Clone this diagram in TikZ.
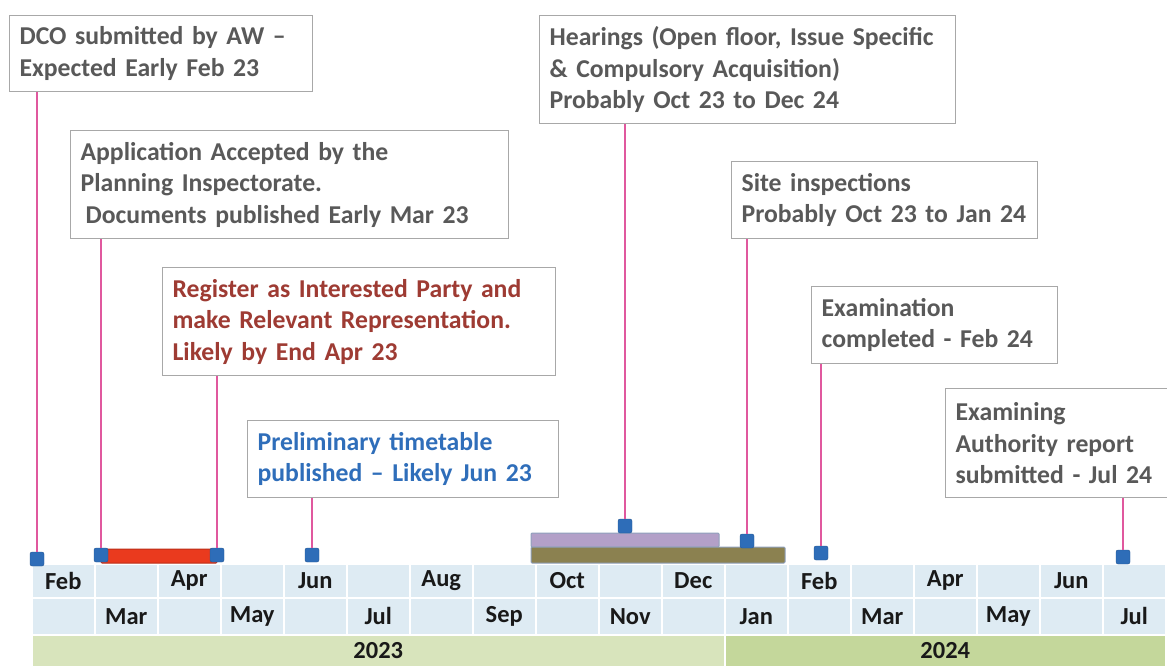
\documentclass[tikz,border=0pt]{standalone}
\usepackage{fontspec}
\setmainfont{Carlito}
\definecolor{txtgray}{HTML}{595959}
\definecolor{txtred}{HTML}{9E3B33}
\definecolor{txtblue}{HTML}{2F6EBA}
\definecolor{boxgray}{HTML}{A8A8A8}
\definecolor{pinkline}{HTML}{E0589E}
\definecolor{mkblue}{HTML}{2E6DB8}
\definecolor{cellblue}{HTML}{DEEBF3}
\definecolor{yr23}{HTML}{D8E4BC}
\definecolor{yr24}{HTML}{C4D79B}
\definecolor{barred}{HTML}{EA3A1E}
\definecolor{barpurple}{HTML}{B3A0C8}
\definecolor{barolive}{HTML}{8B8150}
\definecolor{baredge}{HTML}{8FA0BC}
\begin{document}
\begin{tikzpicture}[x=1pt,y=-1pt,
  evbox/.style={draw=boxgray, line width=1.2pt, fill=white, anchor=north west,
    inner xsep=10pt, inner ysep=0pt, align=left, text=txtgray,
    font=\bfseries\fontsize{25.7}{31.5}\selectfont},
  cell/.style={anchor=north west, minimum width=63pt, inner sep=0pt,
    fill=cellblue, draw=white, line width=1.5pt, text=black!90,
    font=\bfseries\fontsize{24.5}{28}\selectfont},
  yearcell/.style={anchor=north west, minimum height=32pt, inner sep=0pt,
    draw=white, line width=1.5pt, text=black!90,
    font=\bfseries\fontsize{24.5}{28}\selectfont},
  marker/.style={minimum size=14pt, inner sep=0pt, fill=mkblue, draw=mkblue!80!black,
    line width=0.4pt, rounded corners=2pt},
  stem/.style={draw=pinkline, line width=2pt},
  bar/.style={line width=1pt, rounded corners=1pt}
]
\useasboundingbox (0,0) rectangle (1167,665);

% timeline cells
\foreach \m [count=\k from 0] in {Feb,Mar,Apr,May,Jun,Jul,Aug,Sep,Oct,Nov,Dec,Jan,Feb,Mar,Apr,May,Jun,Jul} {
  \ifodd\k
    \node[cell, minimum height=34pt] (ra\k) at ({31+63*\k},563) {};
    \node[cell, minimum height=37pt] (rb\k) at ({31+63*\k},597) {\m};
  \else
    \node[cell, minimum height=34pt] (ra\k) at ({31+63*\k},563) {\m};
    \node[cell, minimum height=37pt] (rb\k) at ({31+63*\k},597) {};
  \fi
}
\node[yearcell, fill=yr23, minimum width=693pt] (y23) at (31,634) {2023};
\node[yearcell, fill=yr24, minimum width=441pt] (y24) at (724,634) {2024};

% bars
\draw[bar, fill=barred, draw=barred!80!black] (101,549) rectangle (217,563);
\draw[bar, fill=barpurple, draw=baredge] (531,533) rectangle (719,547);
\draw[bar, fill=barolive, draw=baredge] (531,547) rectangle (785,563);

% boxes
\node[evbox, text width=283pt, minimum height=76pt] (dco) at (9,15)
  {DCO submitted by AW --\\Expected Early Feb 23};
\node[evbox, text width=418pt, minimum height=108pt] (app) at (70,130)
  {Application Accepted by the\\Planning Inspectorate.\\\hspace*{5pt}Documents published Early Mar 23};
\node[evbox, text width=373pt, minimum height=108pt, text=txtred] (reg) at (162,267)
  {Register as Interested Party and\\make Relevant Representation.\\Likely by End Apr 23};
\node[evbox, text width=291pt, minimum height=77pt, text=txtblue] (pre) at (247,420)
  {Preliminary timetable\\published -- Likely Jun 23};
\node[evbox, text width=396pt, minimum height=108pt] (hea) at (539,15)
  {Hearings (Open floor, Issue Specific\\\& Compulsory Acquisition)\\Probably Oct 23 to Dec 24};
\node[evbox, text width=286pt, minimum height=77pt] (site) at (731,161)
  {Site inspections\\Probably Oct 23 to Jan 24};
\node[evbox, text width=226pt, minimum height=77pt] (exa) at (811,286)
  {Examination\\completed - Feb 24};
\node[evbox, text width=215pt, minimum height=109pt] (rep) at (945,388)
  {Examining\\Authority report\\submitted - Jul 24};

% markers
\node[marker] (m1) at (37,559) {};
\node[marker] (m2) at (101,555) {};
\node[marker] (m3) at (217,555) {};
\node[marker] (m4) at (312,555) {};
\node[marker] (m5) at (625,526) {};
\node[marker] (m6) at (747,541) {};
\node[marker] (m7) at (821,553) {};
\node[marker] (m8) at (1123,557) {};

% stems
\draw[stem] (dco.south -| m1) -- (m1.north);
\draw[stem] (app.south -| m2) -- (m2.north);
\draw[stem] (reg.south -| m3) -- (m3.north);
\draw[stem] (pre.south -| m4) -- (m4.north);
\draw[stem] (hea.south -| m5) -- (m5.north);
\draw[stem] (site.south -| m6) -- (m6.north);
\draw[stem] (exa.south -| m7) -- (m7.north);
\draw[stem] (rep.south -| m8) -- (m8.north);
\end{tikzpicture}
\end{document}
